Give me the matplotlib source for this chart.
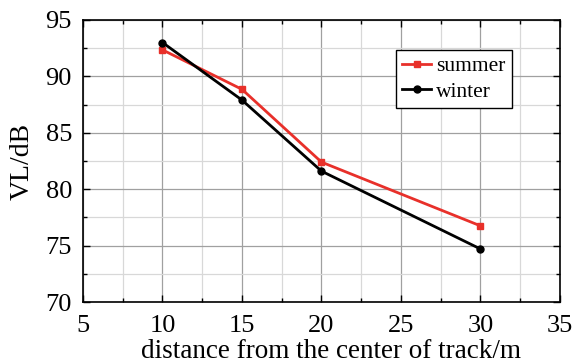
import matplotlib
matplotlib.use('Agg')
from matplotlib import pyplot as plt
from matplotlib.ticker import MultipleLocator

distance = [10, 15, 20, 30]
summer = [92.35, 88.85, 82.4, 76.75]
winter = [93.0, 87.9, 81.6, 74.7]

plt.rcParams['font.family'] = ['Liberation Serif', 'DejaVu Serif']

fig = plt.figure(figsize=(5.74, 3.63), dpi=100)
ax = fig.add_axes([0.1446, 0.168, 0.831, 0.777])

ax.plot(distance, summer, color='#e8302a', lw=2, marker='s', ms=5, label='summer', zorder=3)
ax.plot(distance, winter, color='black', lw=2, marker='o', ms=5, label='winter', zorder=3)

ax.set_xlim(5, 35)
ax.set_ylim(70, 95)
ax.xaxis.set_major_locator(MultipleLocator(5))
ax.xaxis.set_minor_locator(MultipleLocator(2.5))
ax.yaxis.set_major_locator(MultipleLocator(5))
ax.yaxis.set_minor_locator(MultipleLocator(2.5))
ax.grid(which='major', color='#a0a0a0', lw=0.9)
ax.grid(which='minor', color='#d8d8d8', lw=0.9)
ax.set_axisbelow(True)
ax.tick_params(which='both', direction='in', top=True, right=True, labelsize=19)
ax.tick_params(axis='x', which='major', length=5, width=1, pad=9)
ax.tick_params(axis='y', which='major', length=5, width=1, pad=8)
ax.tick_params(which='minor', length=3, width=1)
for s in ax.spines.values():
    s.set_linewidth(1.2)

ax.set_xlabel('distance from the center of track/m', fontsize=19.5)
ax.set_ylabel('VL/dB', fontsize=20, labelpad=8)
ax.xaxis.set_label_coords(0.52, -0.13)

leg = ax.legend(loc='upper left', bbox_to_anchor=(0.656, 0.895), fontsize=15.5, frameon=True,
                fancybox=False, edgecolor='black', framealpha=1, handlelength=1.35,
                handletextpad=0.2, borderpad=0.3, labelspacing=0.25, borderaxespad=0)
leg.get_frame().set_linewidth(1)

fig.savefig('out.png', dpi=100)
